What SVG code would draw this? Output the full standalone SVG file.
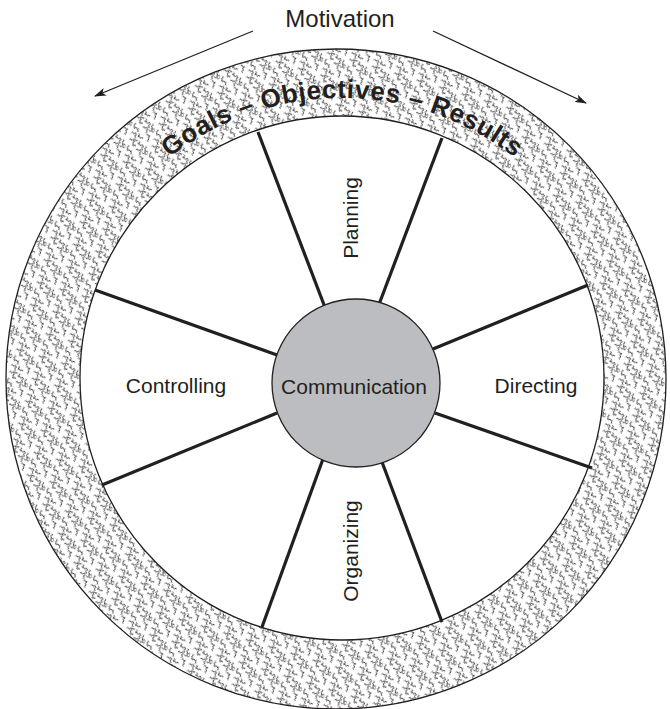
<svg xmlns="http://www.w3.org/2000/svg" width="670" height="709" viewBox="0 0 670 709">
  <style>
    .lbl { font-family: "Liberation Sans", Arial, sans-serif; font-size: 21px; fill: #231f20; }
    .mot { font-family: "Liberation Sans", Arial, sans-serif; font-size: 24px; fill: #231f20; }
    .ringtxt { font-family: "Liberation Sans", Arial, sans-serif; font-size: 26px; font-weight: bold; fill: #231f20; }
    .spoke { stroke: #231f20; stroke-width: 3.2; stroke-linecap: butt; fill: none; }
    .arrow { stroke: #231f20; stroke-width: 1.3; fill: none; }
    .edge { fill: none; stroke: #231f20; stroke-width: 1.3; }
    .sq { fill: none; stroke: #231f20; stroke-width: 1.25; stroke-linecap: round; stroke-linejoin: round; }
  </style>
  <defs>
    <pattern id="squiggle" patternUnits="userSpaceOnUse" width="30" height="30" patternTransform="rotate(17) scale(0.78)">
      <rect width="30" height="30" fill="#ffffff"/>
      <path class="sq" d="M1,2 q1,-1.5 2,0 t2,0 t2,0 q1.5,1 0,2 t0,2 t0,2 q1,1.5 2,0 t2,0"/>
      <path class="sq" d="M14,1 q1.5,1 0,2 t0,2 q1,-1.5 2,0 t2,0 t2,0 q1.5,1 0,2 t0,2 t0,2"/>
      <path class="sq" d="M2,10 q1.5,1 0,2 t0,2 t0,2 q1,1.5 2,0 t2,0 t2,0 q-1.5,1 0,2 t0,2"/>
      <path class="sq" d="M13,12 q1,-1.5 2,0 t2,0 t2,0 q1.5,1 0,2 t0,2 t0,2"/>
      <path class="sq" d="M24,5 q1.5,1 0,2 t0,2 t0,2 q1,1.5 2,0 t2,0"/>
      <path class="sq" d="M1,23 q1,-1.5 2,0 t2,0 t2,0 q1.5,1 0,2 t0,2 t0,2"/>
      <path class="sq" d="M11,22 q1.5,1 0,2 t0,2 q1,-1.5 2,0 t2,0 t2,0"/>
      <path class="sq" d="M20,20 q1,-1.5 2,0 t2,0 q1.5,1 0,2 t0,2 t0,2 t0,2"/>
      <path class="sq" d="M22,14 q1,1.5 2,0 t2,0 t2,0"/>
      <path class="sq" d="M7,1 q1,-1 2,0 t2,0"/>
    </pattern>
    <marker id="ah" viewBox="0 0 12 8" refX="11" refY="4" markerWidth="12" markerHeight="8" markerUnits="userSpaceOnUse" orient="auto">
      <path d="M0,0 L12,4 L0,8 L3,4 Z" fill="#231f20"/>
    </marker>
    <path id="ringarc" d="M 97.8,241 A 280,280 0 0 1 586.2,241"/>
  </defs>

  <g id="ring">
    <path d="M 6,379 A 330,330 0 1 0 666,379 A 330,330 0 1 0 6,379 Z M 80,378 A 262,262 0 1 1 604,378 A 262,262 0 1 1 80,378 Z" fill="url(#squiggle)" fill-rule="evenodd"/>
    <circle class="edge" cx="336" cy="379" r="330"/>
    <circle class="edge" cx="342" cy="378" r="262"/>
    <text class="ringtxt"><textPath href="#ringarc" startOffset="50%" text-anchor="middle" textLength="372" lengthAdjust="spacing">Goals – Objectives – Results</textPath></text>
  </g>

  <g id="connectors">
    <line class="spoke" x1="258" y1="132" x2="326" y2="310"/>
    <line class="spoke" x1="442" y1="138" x2="378" y2="307"/>
    <line class="spoke" x1="95" y1="290" x2="277" y2="355"/>
    <line class="spoke" x1="102" y1="485" x2="277" y2="413"/>
    <line class="spoke" x1="588" y1="285" x2="433" y2="349"/>
    <line class="spoke" x1="592" y1="468" x2="435" y2="413"/>
    <line class="spoke" x1="262" y1="627" x2="323" y2="459"/>
    <line class="spoke" x1="442" y1="622" x2="382" y2="462"/>
    <line class="arrow" x1="253" y1="31" x2="95" y2="96" marker-end="url(#ah)"/>
    <line class="arrow" x1="433" y1="31" x2="586" y2="103" marker-end="url(#ah)"/>
  </g>

  <g id="communication">
    <circle cx="356" cy="383" r="84" fill="#bcbdc0" stroke="#231f20" stroke-width="1.3"/>
    <text class="lbl" x="354" y="394" text-anchor="middle">Communication</text>
  </g>
  <g id="planning">
    <text class="lbl" transform="translate(358,218) rotate(-90)" text-anchor="middle">Planning</text>
  </g>
  <g id="directing">
    <text class="lbl" x="536" y="393" text-anchor="middle">Directing</text>
  </g>
  <g id="organizing">
    <text class="lbl" transform="translate(358,551) rotate(-90)" text-anchor="middle">Organizing</text>
  </g>
  <g id="controlling">
    <text class="lbl" x="176" y="393" text-anchor="middle">Controlling</text>
  </g>
  <g id="motivation">
    <text class="mot" x="340" y="27" text-anchor="middle">Motivation</text>
  </g>
</svg>
